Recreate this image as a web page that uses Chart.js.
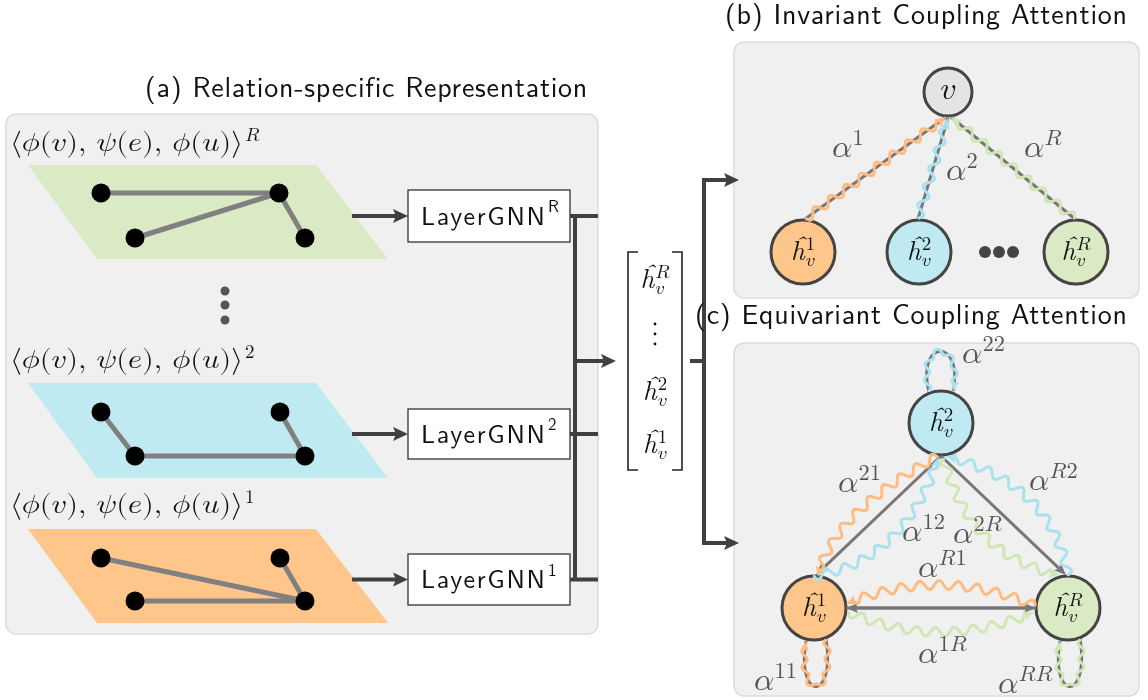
<!DOCTYPE html>
<html><head><meta charset="utf-8">
<script src="https://cdn.jsdelivr.net/npm/chart.js@4.4.0/dist/chart.umd.min.js"></script>
<style>html,body{margin:0;padding:0;background:#fff;}#wrap{width:1148px;height:700px;}</style>
</head><body><div id="wrap"><canvas id="c" width="1148" height="700"></canvas></div>
<script>
const W = 1148, H = 700;

// relation-specific graphs: node coordinates and edge lists (top to bottom: R, 2, 1)
const relations = ['R', '2', '1'];
const graphR = [[101,193],[279,193],[135,238],[305,238]];
const graph2 = [[101,412],[280,412],[135,456],[305,456]];
const graph1 = [[101,558],[280,558],[135,601],[305,601]];
const edgesR = [[0,1],[2,1],[1,3]];
const edges2 = [[0,2],[2,3],[1,3]];
const edges1 = [[0,3],[2,3],[1,3]];

// invariant coupling: relation nodes feeding the target node v
const invRelations = ['1', '2', 'R'];
const invNodeX = [803, 919, 1076];
const invNodeY = 252;
const targetV = [948, 92];
const invEllipsisX = [985, 999, 1013];

// equivariant coupling: relation nodes and pairwise attention labels
const eqRelations = ['2', '1', 'R'];
const eqNodes = [[941,423],[814,608],[1068,608]];
const eqLabels = ['22','21','R2','12','2R','R1','1R','11','RR'];

// ---- styling ----
const C = {
  panel: '#f0f0f0', panelEdge: '#dcdcdc', dark: '#404040', edge: '#808080',
  green: '#d9eac5', cyan: '#bfeaf1', orange: '#ffc68c', vnode: '#e4e4e4',
  wOrange: '#ffbb80', wCyan: '#a9e2ef', wGreen: '#d0e7b5', label: '#555555'
};
const planeColors = [C.green, C.cyan, C.orange];
const planeRows = [[165,259],[383,478],[529,623]];
const boxRows = [[190,242],[409,459],[554,605]];
const formulaBase = [151, 368, 513];
const graphs = [graphR, graph2, graph1];
const graphEdges = [edgesR, edges2, edges1];
const invColors = [C.orange, C.cyan, C.green];
const invWave = [C.wOrange, C.wCyan, C.wGreen];
const eqColors = [C.cyan, C.orange, C.green];

const pt = ([x, y]) => ({x, y});
const datasets = [];
graphs.forEach((g, k) => {
  graphEdges[k].forEach(([a, b]) => datasets.push({
    data: [pt(g[a]), pt(g[b])], showLine: true, borderColor: C.edge, borderWidth: 5,
    pointRadius: 0, order: 5, clip: false
  }));
  datasets.push({data: g.map(pt), pointRadius: 9.5, backgroundColor: '#000', borderWidth: 0, order: 2, clip: false});
});
datasets.push({data: [{x:225,y:291},{x:225,y:305},{x:225,y:320}], pointRadius: 4.5, backgroundColor: '#555', borderWidth: 0, order: 2});
datasets.push({data: invNodeX.map(x => ({x, y: invNodeY})), pointRadius: 32, backgroundColor: invColors, borderColor: '#444', borderWidth: 3, order: 1, clip: false});
datasets.push({data: [pt(targetV)], pointRadius: 24, backgroundColor: C.vnode, borderColor: '#444', borderWidth: 3, order: 1});
datasets.push({data: invEllipsisX.map(x => ({x, y: invNodeY})), pointRadius: 6, backgroundColor: '#444', borderWidth: 0, order: 1});
datasets.push({data: eqNodes.map(pt), pointRadius: 32, backgroundColor: eqColors, borderColor: '#444', borderWidth: 3, order: 1, clip: false});

// ---- drawing helpers ----
let SX, SY;
const X = v => SX.getPixelForValue(v);
const Y = v => SY.getPixelForValue(v);
const P = ([x, y]) => [X(x), Y(y)];

function panel(ctx, x0, y0, x1, y1) {
  ctx.beginPath();
  ctx.roundRect(X(x0), Y(y0), X(x1) - X(x0), Y(y1) - Y(y0), 10);
  ctx.fillStyle = C.panel; ctx.fill();
  ctx.lineWidth = 1.5; ctx.strokeStyle = C.panelEdge; ctx.stroke();
}
function line(ctx, pts, color, w) {
  ctx.beginPath();
  pts.forEach((p, i) => { const [x, y] = P(p); i ? ctx.lineTo(x, y) : ctx.moveTo(x, y); });
  ctx.strokeStyle = color; ctx.lineWidth = w; ctx.lineCap = 'butt'; ctx.stroke();
}
function head(ctx, tip, dx, dy, len, hw, color) {
  const n = Math.hypot(dx, dy); dx /= n; dy /= n;
  const [tx, ty] = tip;
  ctx.beginPath();
  ctx.moveTo(tx, ty);
  ctx.lineTo(tx - dx * len - dy * hw, ty - dy * len + dx * hw);
  ctx.lineTo(tx - dx * len * 0.8, ty - dy * len * 0.8);
  ctx.lineTo(tx - dx * len + dy * hw, ty - dy * len - dx * hw);
  ctx.closePath(); ctx.fillStyle = color; ctx.fill();
}
function arrow(ctx, a, b, color, w, len, hw) {
  const [x1, y1] = P(a), [x2, y2] = P(b);
  const d = Math.hypot(x2 - x1, y2 - y1), ux = (x2 - x1) / d, uy = (y2 - y1) / d;
  ctx.beginPath(); ctx.moveTo(x1, y1); ctx.lineTo(x2 - ux * len * 0.8, y2 - uy * len * 0.8);
  ctx.strokeStyle = color; ctx.lineWidth = w; ctx.stroke();
  head(ctx, [x2, y2], ux, uy, len, hw, color);
}
function sample(ctrl, n = 240) {
  const p = ctrl.map(P), out = [];
  for (let i = 0; i <= n; i++) {
    const t = i / n, s = 1 - t;
    if (p.length === 2) out.push([p[0][0] * s + p[1][0] * t, p[0][1] * s + p[1][1] * t]);
    else if (p.length === 3) out.push([
      s*s*p[0][0] + 2*s*t*p[1][0] + t*t*p[2][0],
      s*s*p[0][1] + 2*s*t*p[1][1] + t*t*p[2][1]]);
    else out.push([
      s*s*s*p[0][0] + 3*s*s*t*p[1][0] + 3*s*t*t*p[2][0] + t*t*t*p[3][0],
      s*s*s*p[0][1] + 3*s*s*t*p[1][1] + 3*s*t*t*p[2][1] + t*t*t*p[3][1]]);
  }
  return out;
}
function strokePath(ctx, pts, color, w) {
  ctx.beginPath(); pts.forEach(([x, y], i) => i ? ctx.lineTo(x, y) : ctx.moveTo(x, y));
  ctx.strokeStyle = color; ctx.lineWidth = w; ctx.stroke();
}
// sinusoidal "attention" stroke following a base path, ending in an arrowhead
function wave(ctx, ctrl, color, opt = {}) {
  const amp = opt.amp ?? 4.4, wl = opt.wl ?? 19, hl = opt.head ?? 11;
  const base = sample(ctrl), cum = [0];
  for (let i = 1; i < base.length; i++) cum.push(cum[i-1] + Math.hypot(base[i][0]-base[i-1][0], base[i][1]-base[i-1][1]));
  const L = cum[cum.length - 1];
  const at = s => {
    let i = 1; while (i < cum.length - 1 && cum[i] < s) i++;
    const f = (s - cum[i-1]) / Math.max(1e-6, cum[i] - cum[i-1]);
    const dx = base[i][0] - base[i-1][0], dy = base[i][1] - base[i-1][1], d = Math.hypot(dx, dy) || 1;
    return {x: base[i-1][0] + dx * f, y: base[i-1][1] + dy * f, tx: dx / d, ty: dy / d};
  };
  const end = L - hl * 0.75;
  ctx.beginPath();
  for (let s = 0; s <= end; s += 0.7) {
    const q = at(s), taper = Math.min(1, s / 3, (end - s) / 3);
    const o = amp * taper * Math.sin(2 * Math.PI * s / wl);
    const x = q.x - q.ty * o, y = q.y + q.tx * o;
    s ? ctx.lineTo(x, y) : ctx.moveTo(x, y);
  }
  ctx.strokeStyle = color; ctx.lineWidth = opt.w ?? 3; ctx.lineJoin = 'round'; ctx.stroke();
  const q = at(L - 0.5);
  head(ctx, [base[base.length-1][0], base[base.length-1][1]], q.tx, q.ty, hl, hl * 0.45, color);
}
// sans text spread (or squeezed) to a measured span
function sans(ctx, text, x0, x1, cy, size, color) {
  ctx.save();
  ctx.font = size + 'px "Latin Modern Sans", "DejaVu Sans", sans-serif';
  ctx.letterSpacing = '0px';
  const w = ctx.measureText(text).width, target = X(x1) - X(x0);
  ctx.translate(X(x0), Y(cy));
  if (target > w) ctx.letterSpacing = ((target - w) / (text.length - 1)).toFixed(2) + 'px';
  else ctx.scale(target / w, 1);
  ctx.fillStyle = color; ctx.textBaseline = 'middle'; ctx.textAlign = 'left';
  ctx.fillText(text, 0, 0); ctx.restore();
}
// letters to mathematical italic code points
const mi = s => Array.from(s).map(c => {
  if (c === 'h') return '\u210E';
  if (c >= 'a' && c <= 'z') return String.fromCodePoint(0x1D44E + c.charCodeAt(0) - 97);
  if (c >= 'A' && c <= 'Z') return String.fromCodePoint(0x1D434 + c.charCodeAt(0) - 65);
  return c;
}).join('');
const MF = sz => sz + 'px "Latin Modern Math", "STIX Two Math", serif';
const HF = sz => 'italic ' + sz + 'px "Latin Modern Roman", "Liberation Serif", serif';
// items: {t, h} for a run of text, {u, d, k, up} for stacked super/subscripts
function math(ctx, items, x, yb, size, color, align = 'left', fitW = null) {
  const ss = size * 0.7, segs = []; let w = 0;
  for (const it of items) {
    if (it.t !== undefined) {
      ctx.font = it.h ? HF(size) : MF(size); const m = ctx.measureText(it.t).width;
      segs.push({it, x: w}); w += m;
    } else {
      ctx.font = MF(ss);
      const wu = it.u ? ctx.measureText(it.u).width : 0, wd = it.d ? ctx.measureText(it.d).width : 0;
      segs.push({it, x: w + (it.k || 0)}); w += Math.max(wu, wd) + (it.k || 0);
    }
  }
  const sc = fitW ? fitW / w : 1;
  let x0 = X(x); if (align === 'center') x0 -= w * sc / 2; else if (align === 'right') x0 -= w * sc;
  ctx.save(); ctx.translate(x0, Y(yb)); ctx.scale(sc, 1);
  ctx.fillStyle = color; ctx.textBaseline = 'alphabetic'; ctx.textAlign = 'left';
  ctx.letterSpacing = '0px';
  for (const {it, x: sx} of segs) {
    if (it.t !== undefined) { ctx.font = it.h ? HF(size) : MF(size); ctx.fillText(it.t, sx, 0); }
    else {
      ctx.font = MF(ss);
      if (it.u) ctx.fillText(it.u, sx, -size * (it.up ?? 0.42));
      if (it.d) ctx.fillText(it.d, sx, size * 0.22);
    }
  }
  ctx.restore();
  return w * sc;
}
const hv = r => [{t: 'ĥ', h: true}, {u: mi(r), d: mi('v'), k: 1, up: 0.38}];
const alpha = s => [{t: '\u{1D6FC}'}, {u: mi(s), k: 0, up: 0.36}];

const backdrop = {
  id: 'backdrop',
  beforeDatasetsDraw(chart) {
    const ctx = chart.ctx; SX = chart.scales.x; SY = chart.scales.y;
    ctx.save();
    ctx.fillStyle = '#fff'; ctx.fillRect(0, 0, chart.width, chart.height);
    panel(ctx, 6, 114, 598, 634);
    panel(ctx, 734, 42, 1139, 298);
    panel(ctx, 734, 343, 1139, 696);
    // relation planes
    planeRows.forEach(([t, b], k) => {
      ctx.beginPath();
      ctx.moveTo(X(28), Y(t)); ctx.lineTo(X(316), Y(t)); ctx.lineTo(X(388), Y(b)); ctx.lineTo(X(97), Y(b));
      ctx.closePath(); ctx.fillStyle = planeColors[k]; ctx.fill();
    });
    // per-relation GNN blocks and the bus that stacks their outputs
    boxRows.forEach(([t, b]) => {
      const cy = (t + b) / 2;
      arrow(ctx, [352, cy], [408, cy], C.dark, 4, 15, 7);
      ctx.fillStyle = '#fff'; ctx.fillRect(X(408), Y(t), X(570) - X(408), Y(b) - Y(t));
      ctx.strokeStyle = '#333'; ctx.lineWidth = 1.3; ctx.strokeRect(X(408), Y(t), X(570) - X(408), Y(b) - Y(t));
      line(ctx, [[570, cy], [598, cy]], C.dark, 4);
    });
    line(ctx, [[575, 214], [575, 581]], C.dark, 4);
    arrow(ctx, [575, 361], [616, 361], C.dark, 4, 15, 7);
    // stacked representation vector
    ctx.strokeStyle = '#222'; ctx.lineWidth = 1.6;
    ctx.beginPath();
    ctx.moveTo(X(638), Y(252)); ctx.lineTo(X(628), Y(252)); ctx.lineTo(X(628), Y(470)); ctx.lineTo(X(638), Y(470));
    ctx.moveTo(X(672), Y(252)); ctx.lineTo(X(682), Y(252)); ctx.lineTo(X(682), Y(470)); ctx.lineTo(X(672), Y(470));
    ctx.stroke();
    line(ctx, [[690, 361], [704, 361]], C.dark, 4);
    line(ctx, [[704, 178], [704, 545]], C.dark, 4);
    arrow(ctx, [702, 180], [739, 180], C.dark, 4, 15, 7);
    arrow(ctx, [702, 543], [739, 543], C.dark, 4, 15, 7);
    ctx.restore();
  },
  afterDatasetsDraw(chart) {
    const ctx = chart.ctx; SX = chart.scales.x; SY = chart.scales.y;
    ctx.save();
    // titles
    sans(ctx, '(a) Relation-specific Representation', 145, 587, 88, 28, '#111');
    sans(ctx, '(b) Invariant Coupling Attention', 725, 1127, 15, 28, '#111');
    sans(ctx, '(c) Equivariant Coupling Attention', 695, 1127, 315, 28, '#111');
    // relation formulas and GNN labels
    const formula = '⟨\u{1D719}(' + mi('v') + '), \u{1D713}(' + mi('e') + '), \u{1D719}(' + mi('u') + ')⟩';
    relations.forEach((r, k) => {
      math(ctx, [{t: formula}], 10, formulaBase[k], 27, '#111', 'left', 233);
      math(ctx, [{t: mi(r)}], 245, formulaBase[k] - 10, 19, '#111');
      const [t, b] = boxRows[k], cy = (t + b) / 2;
      sans(ctx, 'LayerGNN', 421, 545, cy + 1, 26, '#111');
      ctx.font = '17px "Latin Modern Sans", sans-serif'; ctx.letterSpacing = '0px';
      ctx.fillStyle = '#111'; ctx.textBaseline = 'middle';
      ctx.fillText(r, X(548), Y(cy - 9));
    });
    // vector entries
    math(ctx, hv('R'), 655, 288, 27, '#111', 'center');
    math(ctx, hv('2'), 655, 400, 27, '#111', 'center');
    math(ctx, hv('1'), 655, 453, 27, '#111', 'center');
    ctx.fillStyle = '#111';
    [324, 334, 344].forEach(y => { ctx.beginPath(); ctx.arc(X(655), Y(y), 1.4, 0, 7); ctx.fill(); });

    // (b) edges into v
    const vBottom = [[946, 117], [948, 118], [951, 117]];
    invNodeX.forEach((x, k) => {
      const from = [x + (k === 0 ? 2 : -1), invNodeY - 33];
      line(ctx, [from, vBottom[k]], '#777', 3);
      wave(ctx, [from, vBottom[k]], invWave[k]);
      math(ctx, hv(invRelations[k]), x, invNodeY + 8, 27, '#111', 'center');
    });
    math(ctx, [{t: mi('v')}], targetV[0], targetV[1] + 7, 32, '#111', 'center');
    math(ctx, alpha('1'), 832, 157, 32, C.label);
    math(ctx, alpha('2'), 946, 180, 32, C.label);
    math(ctx, alpha('R'), 1024, 157, 32, C.label);

    // (c) pairwise edges
    arrow(ctx, [941, 456], [816, 575], '#777', 3, 12, 5);
    arrow(ctx, [941, 456], [1066, 575], '#777', 3, 12, 5);
    arrow(ctx, [1036, 608], [846, 608], '#777', 3, 12, 5);
    arrow(ctx, [846, 608], [1036, 608], '#777', 3, 12, 5);
    // self loops
    const loop2 = [[929, 392], [916, 338], [964, 338], [953, 391]];
    const loop1 = [[826, 639], [836, 702], [796, 702], [806, 641]];
    const loopR = [[1080, 639], [1090, 702], [1050, 702], [1060, 641]];
    strokePath(ctx, sample(loop2), '#777', 3);
    strokePath(ctx, sample(loop1), '#777', 3);
    strokePath(ctx, sample(loopR), '#777', 3);
    wave(ctx, loop2, C.wCyan, {amp: 2.8, wl: 16, head: 10});
    wave(ctx, loop1, C.wOrange, {amp: 2.8, wl: 16, head: 10});
    wave(ctx, loopR, C.wGreen, {amp: 2.8, wl: 16, head: 10});
    wave(ctx, [[938, 456], [832, 513], [818, 577]], C.wOrange);
    wave(ctx, [[813, 576], [903, 563], [939, 457]], C.wCyan);
    wave(ctx, [[1068, 576], [1053, 484], [946, 456]], C.wCyan);
    wave(ctx, [[944, 458], [968, 556], [1060, 575]], C.wGreen);
    wave(ctx, [[1036, 606], [939, 565], [846, 604]], C.wOrange);
    wave(ctx, [[848, 612], [939, 652], [1034, 612]], C.wGreen);
    eqNodes.forEach((p, k) => math(ctx, hv(eqRelations[k]), p[0], p[1] + 8, 27, '#111', 'center'));
    const eqPos = [[962,363],[838,492],[1029,490],[902,541],[953,543],[918,577],[918,663],[754,690],[998,693]];
    eqLabels.forEach((s, k) => math(ctx, alpha(s), eqPos[k][0], eqPos[k][1], 32, C.label));
    ctx.restore();
  }
};

new Chart(document.getElementById('c'), {
  type: 'scatter',
  data: {datasets},
  options: {
    responsive: false, animation: false, devicePixelRatio: 1, events: [],
    layout: {padding: 0, autoPadding: false},
    plugins: {legend: {display: false}, tooltip: {enabled: false}},
    scales: {
      x: {type: 'linear', min: 0, max: W, display: false},
      y: {type: 'linear', min: 0, max: H, reverse: true, display: false}
    }
  },
  plugins: [backdrop]
});
</script></body></html>
